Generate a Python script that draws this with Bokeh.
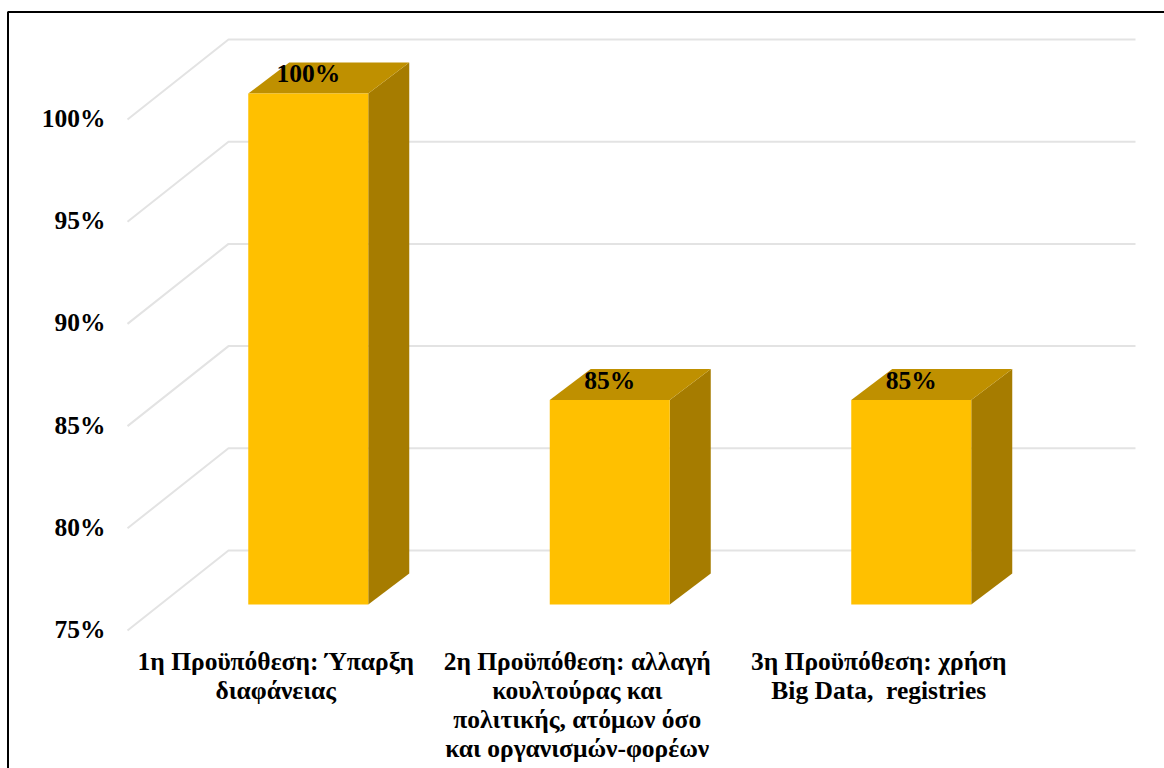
from bokeh.embed import file_html
from bokeh.models import ColumnDataSource, FixedTicker, LinearAxis, Range1d
from bokeh.core.properties import value
from bokeh.plotting import figure
from bokeh.resources import INLINE

categories = [
    "1η Προϋπόθεση: Ύπαρξη\nδιαφάνειας",
    "2η Προϋπόθεση: αλλαγή\nκουλτούρας και\nπολιτικής, ατόμων όσο\nκαι οργανισμών-φορέων",
    "3η Προϋπόθεση: χρήση\nBig Data,\u00a0 registries",
]
percentages = [100, 85, 85]
value_ticks = [75, 80, 85, 90, 95, 100]
baseline = 75

FONT = "Liberation Serif"
FRONT, TOP, SIDE = "#FFC000", "#BF9000", "#A67C00"
GRID = "#E3E3E3"
WIDTH, HEIGHT = 1164, 768

# Pixel scale of the back wall: one category and one percentage point.
PX_PER_CAT = 301.5
PX_PER_PCT = 20.44
WALL_LEFT, WALL_RIGHT, WALL_BASE = 228, 1135, 550

# Conversions between page pixels and the back wall's data units.
def x_at(px):
    return (px - WALL_LEFT) / PX_PER_CAT

def y_at(py):
    return baseline + (WALL_BASE - py) / PX_PER_PCT

# Oblique projection: a plane nearer the viewer moves left and down.
def plane(dx_px, dy_px):
    return dx_px / PX_PER_CAT, dy_px / PX_PER_PCT

FLOOR_DX, FLOOR_DY = plane(-101, 80)
BAR_FRONT_DX, BAR_FRONT_DY = plane(-71, 54)
BAR_BACK_DX, BAR_BACK_DY = plane(-30, 23)
LABEL_DX, LABEL_DY = plane(-103.5, 79)
HALF_BAR = 60 / PX_PER_CAT
WALL_END = x_at(WALL_RIGHT)

x_start, x_end = x_at(0), x_at(WIDTH)
y_start, y_end = y_at(HEIGHT), y_at(0)

p = figure(
    width=WIDTH, height=HEIGHT, output_backend="svg", toolbar_location=None,
    x_range=Range1d(x_start, x_end), y_range=Range1d(y_start, y_end),
    x_axis_location=None, y_axis_location=None,
    min_border=0, outline_line_color=None, background_fill_color="white",
)
p.grid.visible = False

# Axes belong to the front edge of the floor, so they use shifted ranges and
# sit at fixed places inside the frame.
p.extra_y_ranges["floor"] = Range1d(y_start + LABEL_DY, y_end + LABEL_DY)
p.extra_x_ranges["floor"] = Range1d(x_start - LABEL_DX, x_end - LABEL_DX)

y_axis = LinearAxis(
    y_range_name="floor", fixed_location=x_at(112),
    ticker=FixedTicker(ticks=value_ticks),
    major_label_overrides={t: f"{t}%" for t in value_ticks},
    axis_line_color=None, major_tick_line_color=None, minor_tick_line_color=None,
    major_tick_in=0, major_tick_out=0, major_label_standoff=7,
    major_label_text_font=FONT, major_label_text_font_style="bold",
    major_label_text_font_size="25.5px", major_label_text_color="black",
)
p.add_layout(y_axis, "left")

centres = [i + 0.5 for i in range(len(categories))]
x_axis = LinearAxis(
    x_range_name="floor", fixed_location=y_at(646),
    ticker=FixedTicker(ticks=centres),
    major_label_overrides=dict(zip(centres, categories)),
    axis_line_color=None, major_tick_line_color=None, minor_tick_line_color=None,
    major_tick_in=0, major_tick_out=0, major_label_standoff=0,
    major_label_text_font=FONT, major_label_text_font_style="bold",
    major_label_text_font_size="25.5px", major_label_text_color="black",
    major_label_text_align="center", major_label_text_line_height=1.0,
)
p.add_layout(x_axis, "below")

# Gridlines: up the side wall, then across the back wall.
p.multi_line(
    xs=[[FLOOR_DX, 0, WALL_END] for _ in value_ticks],
    ys=[[t - FLOOR_DY, t, t] for t in value_ticks],
    line_color=GRID, line_width=2,
)

# Each bar is three faces: side, top and front.
for centre, pct in zip(centres, percentages):
    fl = centre + BAR_FRONT_DX - HALF_BAR
    fr = centre + BAR_FRONT_DX + HALF_BAR
    bl = centre + BAR_BACK_DX - HALF_BAR
    br = centre + BAR_BACK_DX + HALF_BAR
    low_f, top_f = baseline - BAR_FRONT_DY, pct - BAR_FRONT_DY
    low_b, top_b = baseline - BAR_BACK_DY, pct - BAR_BACK_DY
    p.patch([fr, br, br, fr], [low_f, low_b, top_b, top_f], fill_color=SIDE, line_color=None)
    p.patch([fl, fr, br, bl], [top_f, top_f, top_b, top_b], fill_color=TOP, line_color=None)
    p.patch([fl, fr, fr, fl], [low_f, low_f, top_f, top_f], fill_color=FRONT, line_color=None)

labels = ColumnDataSource(dict(
    x=[c + BAR_FRONT_DX for c in centres],
    y=[v - BAR_FRONT_DY for v in percentages],
    text=[f"{v}%" for v in percentages],
))
p.text(
    "x", "y", text="text", source=labels, text_align="center", text_baseline="middle",
    y_offset=-20, text_font=value(FONT), text_font_style="bold",
    text_font_size="25.5px", text_color="black",
)

# Black border, running off the bottom and right of the page.
p.line(
    [x_at(7.5), x_at(7.5), x_at(WIDTH + 5)],
    [y_at(HEIGHT + 5), y_at(11.5), y_at(11.5)],
    line_color="black", line_width=2,
)

open("out.html", "w").write(file_html(p, INLINE))
